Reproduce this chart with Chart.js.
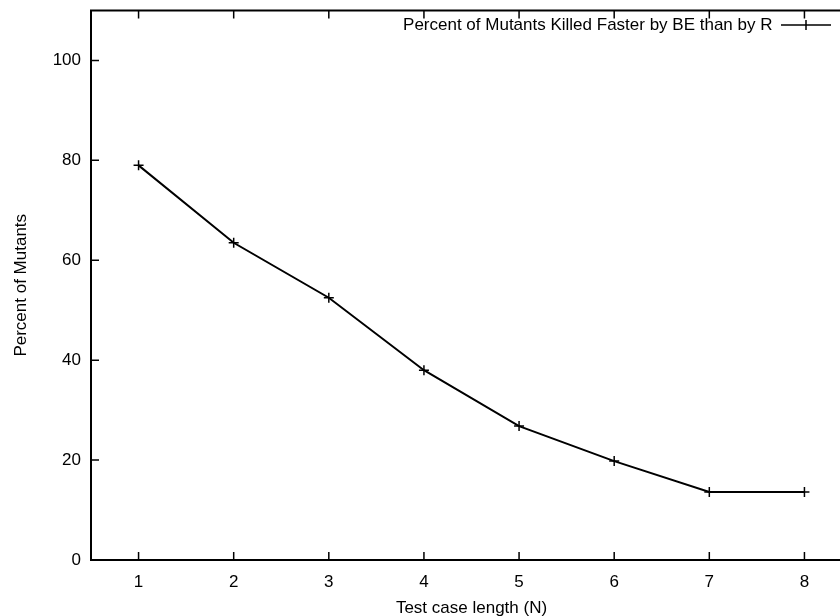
<!DOCTYPE html>
<html>
<head>
<meta charset="utf-8">
<script src="https://cdn.jsdelivr.net/npm/chart.js@4.4.1/dist/chart.umd.min.js"></script>
<style>
  html, body { margin: 0; padding: 0; background: #fff; overflow: hidden; }
  #wrap { width: 860px; height: 616px; }
</style>
</head>
<body>
<div id="wrap"><canvas id="myChart"></canvas></div>
<script>
// test case length N and the percent values
var lengths = [1, 2, 3, 4, 5, 6, 7, 8];
var percentFaster = [79, 63.5, 52.5, 38, 26.8, 19.8, 13.6, 13.6];
var xTicks = [1, 2, 3, 4, 5, 6, 7, 8];
var yTicks = [0, 20, 40, 60, 80, 100];
var seriesName = 'Percent of Mutants Killed Faster by BE than by R';

var points = [];
for (var i = 0; i < lengths.length; i++) {
  points.push({x: lengths[i], y: percentFaster[i]});
}

// gnuplot style legend sample: short line with a cross in the middle
var sample = document.createElement('canvas');
sample.width = 50;
sample.height = 14;
var sc = sample.getContext('2d');
sc.strokeStyle = '#000';
sc.lineWidth = 1.5;
sc.beginPath();
sc.moveTo(0, 7); sc.lineTo(50, 7);
sc.moveTo(25, 2); sc.lineTo(25, 12);
sc.stroke();

// frame round the plot with inward tick marks on every side
var framePlugin = {
  id: 'frame',
  afterLayout: function (chart) {
    // push the legend into the top right corner of the plot
    var lg = chart.legend, a = chart.chartArea;
    var w = lg.width, h = lg.height;
    lg.right = a.right - 11; lg.left = lg.right - w;
    lg.top = a.top - 4; lg.bottom = lg.top + h;
  },
  afterDatasetsDraw: function (chart) {
    var ctx = chart.ctx, a = chart.chartArea;
    var xs = chart.scales.x, ys = chart.scales.y;
    var len = 8;
    ctx.save();
    ctx.strokeStyle = '#000';
    ctx.lineWidth = 2;
    ctx.strokeRect(a.left, a.top, a.right - a.left, a.bottom - a.top);
    ctx.lineWidth = 1.5;
    ctx.beginPath();
    xTicks.forEach(function (v) {
      var px = xs.getPixelForValue(v);
      ctx.moveTo(px, a.bottom); ctx.lineTo(px, a.bottom - len);
      ctx.moveTo(px, a.top); ctx.lineTo(px, a.top + len);
    });
    yTicks.forEach(function (v) {
      var py = ys.getPixelForValue(v);
      ctx.moveTo(a.left, py); ctx.lineTo(a.left + len, py);
      ctx.moveTo(a.right, py); ctx.lineTo(a.right - len, py);
    });
    ctx.stroke();
    ctx.restore();
  }
};

Chart.defaults.font.family = '"Liberation Sans", Arial, sans-serif';
Chart.defaults.font.size = 17;
Chart.defaults.color = '#000';

var config = {
  type: 'line',
  data: {
    datasets: [{
      label: seriesName,
      data: points,
      borderColor: '#000',
      backgroundColor: '#000',
      borderWidth: 2,
      tension: 0,
      pointStyle: 'cross',
      pointRadius: 5,
      pointBorderWidth: 1.5,
      pointHoverRadius: 5
    }]
  },
  options: {
    responsive: true,
    maintainAspectRatio: false,
    animation: false,
    layout: { padding: { top: 0, right: 8, left: 0, bottom: 0 } },
    plugins: {
      tooltip: { enabled: false },
      legend: {
        position: 'chartArea',
        align: 'start',
        rtl: true,
        labels: {
          usePointStyle: true,
          pointStyleWidth: 50,
          color: '#000',
          padding: 10,
          generateLabels: function () {
            return [{
              text: seriesName,
              pointStyle: sample,
              fillStyle: '#000',
              strokeStyle: '#000',
              lineWidth: 0,
              datasetIndex: 0
            }];
          }
        }
      }
    },
    scales: {
      x: {
        type: 'linear',
        min: 0.5,
        max: 8.5,
        afterBuildTicks: function (scale) {
          scale.ticks = xTicks.map(function (v) { return {value: v}; });
        },
        afterFit: function (scale) { scale.height = 56; },
        grid: { display: false },
        border: { display: false },
        ticks: { padding: 4, color: '#000' },
        title: { display: true, text: 'Test case length (N)', color: '#000', padding: { top: 7, bottom: -3 } }
      },
      y: {
        min: 0,
        max: 110,
        afterBuildTicks: function (scale) {
          scale.ticks = yTicks.map(function (v) { return {value: v}; });
        },
        afterFit: function (scale) { scale.width = 91; },
        grid: { display: false },
        border: { display: false },
        ticks: { padding: 2, color: '#000', font: { lineHeight: 1 } },
        title: { display: true, text: 'Percent of Mutants', color: '#000', padding: { top: 11, bottom: 4 } }
      }
    }
  },
  plugins: [framePlugin]
};

var myChart = new Chart(document.getElementById('myChart'), config);
</script>
</body>
</html>
